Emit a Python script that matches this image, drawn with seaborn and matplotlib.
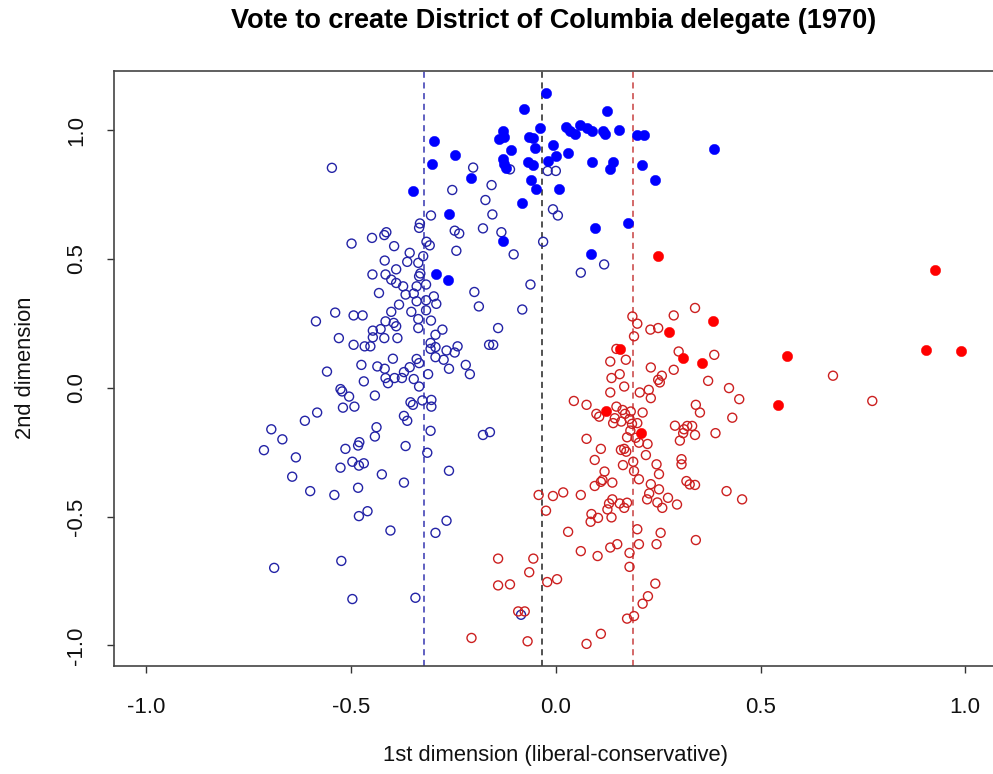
import matplotlib
matplotlib.use("Agg")
import matplotlib.pyplot as plt
import seaborn as sns
import pandas as pd

# Ideal points of legislators (W-NOMINATE), split by party and by how the vote was predicted
dem_err_x = [-0.023, -0.077, -0.039, -0.129, -0.139, -0.126, -0.066, -0.055, -0.052, -0.109,
             -0.298, -0.302, -0.247, -0.130, -0.127, -0.122, -0.069, -0.055, -0.020, -0.206,
             -0.350, -0.061, -0.048, -0.082, -0.261, -0.130, -0.007,
             0.126, 0.026, 0.034, 0.047, 0.058, 0.077, 0.089, 0.116, 0.120, 0.154, 0.199,
             0.216, 0.030, 0.001, 0.089, 0.140, 0.133, 0.211, 0.243, 0.387, 0.007, 0.095,
             0.177, 0.085, -0.292, -0.263]
dem_err_y = [1.144, 1.084, 1.007, 0.997, 0.965, 0.974, 0.974, 0.968, 0.930, 0.922,
             0.958, 0.870, 0.903, 0.887, 0.868, 0.852, 0.877, 0.865, 0.881, 0.816,
             0.765, 0.805, 0.773, 0.717, 0.674, 0.571, 0.942,
             1.073, 1.014, 0.997, 0.984, 1.019, 1.010, 0.997, 0.997, 0.984, 1.001, 0.981,
             0.981, 0.913, 0.898, 0.877, 0.878, 0.848, 0.865, 0.805, 0.926, 0.773, 0.619,
             0.641, 0.518, 0.440, 0.418]

dem_ok_x = [-0.547, -0.202, -0.112, -0.020, -0.253, -0.157, -0.172, -0.155, -0.305, -0.332,
            -0.334, -0.178, -0.133, -0.247, -0.236, -0.414, -0.419, -0.449, -0.499, -0.395,
            -0.316, -0.308, -0.243, -0.103, -0.357, -0.418, -0.363, -0.324, -0.336, -0.031,
            -0.390, -0.007, 0.005, 0.000, 0.118, 0.061,
            -0.586, -0.539, -0.559, -0.583, -0.613, -0.695, -0.668, -0.713, -0.635,
            -0.448, -0.416, -0.331, -0.334, -0.402, -0.390, -0.373, -0.367, -0.340, -0.317,
            -0.062, -0.432, -0.347, -0.298, -0.340, -0.317, -0.292, -0.199, -0.188, -0.082,
            -0.383, -0.494, -0.472, -0.402, -0.353, -0.317, -0.416, -0.396, -0.336, -0.305,
            -0.428, -0.447, -0.390, -0.336, -0.277, -0.141, -0.294, -0.530, -0.447, -0.419,
            -0.387, -0.306, -0.294, -0.306, -0.494, -0.467, -0.453, -0.240, -0.267, -0.247,
            -0.163, -0.153, -0.294, -0.274, -0.398, -0.340, -0.334, -0.475, -0.436, -0.418,
            -0.357, -0.261, -0.220, -0.210, -0.371, -0.312, -0.416, -0.394, -0.376, -0.347,
            -0.410, -0.469, -0.334, -0.526, -0.522, -0.505, -0.442, -0.326, -0.304, -0.304,
            -0.355, -0.349, -0.520, -0.492, -0.371, -0.363, -0.438, -0.442, -0.306, -0.178,
            -0.161, -0.514, -0.483, -0.480, -0.367, -0.314, -0.526, -0.497, -0.481, -0.469,
            -0.425, -0.371, -0.261, -0.541, -0.483, -0.481, -0.460, -0.404, -0.267, -0.294,
            -0.524, -0.497, -0.343, -0.085, -0.644, -0.600, -0.688]
dem_ok_y = [0.854, 0.855, 0.848, 0.842, 0.768, 0.787, 0.729, 0.673, 0.669, 0.638,
            0.621, 0.619, 0.604, 0.610, 0.599, 0.604, 0.593, 0.582, 0.560, 0.550,
            0.567, 0.553, 0.532, 0.518, 0.524, 0.494, 0.489, 0.511, 0.485, 0.567,
            0.460, 0.693, 0.669, 0.842, 0.479, 0.447,
            0.258, 0.292, 0.063, -0.096, -0.128, -0.161, -0.200, -0.242, -0.270,
            0.440, 0.440, 0.444, 0.433, 0.420, 0.407, 0.394, 0.362, 0.394, 0.401,
            0.401, 0.368, 0.366, 0.355, 0.336, 0.340, 0.326, 0.372, 0.316, 0.304,
            0.323, 0.281, 0.281, 0.295, 0.295, 0.301, 0.258, 0.252, 0.267, 0.261,
            0.228, 0.222, 0.239, 0.232, 0.226, 0.232, 0.206, 0.193, 0.196, 0.193,
            0.193, 0.174, 0.158, 0.151, 0.167, 0.161, 0.161, 0.161, 0.145, 0.137,
            0.167, 0.167, 0.119, 0.109, 0.113, 0.112, 0.096, 0.089, 0.083, 0.074,
            0.080, 0.074, 0.089, 0.053, 0.061, 0.053, 0.038, 0.038, 0.038, 0.034,
            0.018, 0.025, 0.005, -0.005, -0.014, -0.034, -0.030, -0.049, -0.047, -0.073,
            -0.056, -0.066, -0.077, -0.073, -0.109, -0.128, -0.153, -0.189, -0.167, -0.183,
            -0.172, -0.237, -0.224, -0.211, -0.226, -0.252, -0.310, -0.287, -0.302, -0.293,
            -0.336, -0.368, -0.322, -0.416, -0.388, -0.498, -0.479, -0.554, -0.516, -0.563,
            -0.672, -0.820, -0.815, -0.881, -0.345, -0.401, -0.699]

rep_err_x = [0.250, 0.927, 0.383, 0.277, 0.156, 0.311, 0.356, 0.122, 0.208,
             0.565, 0.903, 0.989, 0.543]
rep_err_y = [0.511, 0.458, 0.261, 0.217, 0.151, 0.117, 0.096, -0.089, -0.176,
             0.122, 0.145, 0.141, -0.066]

rep_ok_x = [0.340, 0.288, 0.187, 0.199, 0.231, 0.250, 0.191, 0.148, 0.300, 0.387,
            0.133, 0.171, 0.232, 0.288, 0.156, 0.136, 0.250, 0.254, 0.259, 0.167,
            0.372, 0.423, 0.448, 0.133, 0.205, 0.227, 0.232, 0.044, 0.075, 0.148,
            0.342, 0.352, 0.099, 0.106, 0.163, 0.169, 0.183, 0.212, 0.431, 0.144,
            0.140, 0.160, 0.180, 0.186, 0.199, 0.291, 0.313, 0.321, 0.333, 0.311,
            0.340, 0.390, 0.182, 0.075, 0.174, 0.195, 0.303, 0.110, 0.159, 0.167,
            0.172, 0.203, 0.224, 0.095, 0.220, 0.307, 0.307, 0.189, 0.246, 0.164,
            0.119,
            -0.042, -0.007, -0.024, -0.141, -0.055, -0.065, -0.021, -0.141, -0.112,
            -0.092, -0.076, -0.206, -0.069,
            0.114, 0.110, 0.095, 0.138, 0.191, 0.203, 0.252, 0.232, 0.228, 0.252,
            0.223, 0.248, 0.260, 0.274, 0.296, 0.319, 0.327, 0.340, 0.417, 0.455,
            0.018, 0.061, 0.138, 0.130, 0.156, 0.174, 0.167, 0.126, 0.087, 0.103,
            0.085, 0.136, 0.030, 0.199, 0.256, 0.342, 0.061, 0.102, 0.133, 0.150,
            0.203, 0.246, 0.180, 0.180, 0.003, 0.243, 0.225, 0.212, 0.191, 0.174,
            0.110, 0.075,
            0.677, 0.773]
rep_ok_y = [0.310, 0.281, 0.277, 0.249, 0.226, 0.232, 0.200, 0.151, 0.141, 0.128,
            0.102, 0.109, 0.079, 0.070, 0.053, 0.038, 0.031, 0.021, 0.047, 0.005,
            0.027, -0.001, -0.044, -0.018, -0.018, -0.008, -0.040, -0.051, -0.066, -0.073,
            -0.066, -0.096, -0.101, -0.112, -0.086, -0.101, -0.092, -0.096, -0.116, -0.118,
            -0.137, -0.131, -0.121, -0.140, -0.137, -0.147, -0.161, -0.148, -0.148, -0.176,
            -0.183, -0.176, -0.166, -0.198, -0.192, -0.194, -0.205, -0.237, -0.241, -0.237,
            -0.248, -0.213, -0.218, -0.280, -0.261, -0.277, -0.297, -0.287, -0.297, -0.300,
            -0.325,
            -0.416, -0.420, -0.477, -0.663, -0.663, -0.716, -0.754, -0.767, -0.763,
            -0.868, -0.868, -0.971, -0.984,
            -0.358, -0.365, -0.381, -0.368, -0.323, -0.355, -0.335, -0.374, -0.410, -0.394,
            -0.433, -0.445, -0.466, -0.427, -0.453, -0.362, -0.375, -0.377, -0.401, -0.433,
            -0.406, -0.416, -0.433, -0.449, -0.449, -0.446, -0.466, -0.472, -0.490, -0.505,
            -0.520, -0.503, -0.559, -0.549, -0.563, -0.591, -0.634, -0.653, -0.620, -0.607,
            -0.607, -0.607, -0.641, -0.695, -0.743, -0.760, -0.809, -0.838, -0.886, -0.896,
            -0.955, -0.994,
            0.047, -0.051]

# Reference lines: Democratic median, chamber median, Republican median
dem_median = -0.3225
chamber_median = -0.034
rep_median = 0.188

tick_values = [-1.0, -0.5, 0.0, 0.5, 1.0]
tick_labels = ["-1.0", "-0.5", "0.0", "0.5", "1.0"]

title = "Vote to create District of Columbia delegate (1970)"
xlabel = "1st dimension (liberal-conservative)"
ylabel = "2nd dimension"

sns.set_style("white")
plt.rcParams["font.family"] = ["Liberation Sans", "DejaVu Sans"]
plt.rcParams["axes.unicode_minus"] = False

fig = plt.figure(figsize=(9.93, 7.74), dpi=100)
ax = fig.add_axes([0.1145, 0.1395, 0.8905, 0.7688])

frames = {
    "dem_ok": pd.DataFrame({"x": dem_ok_x, "y": dem_ok_y}),
    "dem_err": pd.DataFrame({"x": dem_err_x, "y": dem_err_y}),
    "rep_ok": pd.DataFrame({"x": rep_ok_x, "y": rep_ok_y}),
    "rep_err": pd.DataFrame({"x": rep_err_x, "y": rep_err_y}),
}

sns.scatterplot(data=frames["dem_ok"], x="x", y="y", ax=ax, marker="o", s=42,
                facecolors="none", edgecolor="#2323a6", linewidth=1.0, zorder=3)
sns.scatterplot(data=frames["rep_ok"], x="x", y="y", ax=ax, marker="o", s=42,
                facecolors="none", edgecolor="#cc2020", linewidth=1.0, zorder=3)
sns.scatterplot(data=frames["dem_err"], x="x", y="y", ax=ax, marker="o", s=56,
                color="#0000ff", edgecolor="#0000ff", linewidth=0.3, zorder=4)
sns.scatterplot(data=frames["rep_err"], x="x", y="y", ax=ax, marker="o", s=56,
                color="#ff0000", edgecolor="#ff0000", linewidth=0.3, zorder=4)

ax.axvline(dem_median, color="#3535b0", linestyle=(0, (4, 3)), linewidth=1.1, zorder=2)
ax.axvline(chamber_median, color="#222222", linestyle=(0, (4, 3)), linewidth=1.1, zorder=2)
ax.axvline(rep_median, color="#c84040", linestyle=(0, (4, 3)), linewidth=1.1, zorder=2)

ax.set_xlim(-1.08, 1.08)
ax.set_ylim(-1.08, 1.23)
ax.set_xticks(tick_values)
ax.set_xticklabels(tick_labels)
ax.set_yticks(tick_values)
ax.set_yticklabels(tick_labels, rotation=90, va="center")

ax.tick_params(axis="both", direction="out", length=5, width=1.0, color="#333333",
               labelsize=16, labelcolor="#111111")
ax.tick_params(axis="x", pad=17)
ax.tick_params(axis="y", pad=14)
ax.tick_params(left=True, bottom=True)

for side in ["left", "bottom", "top", "right"]:
    ax.spines[side].set_color("#444444")
    ax.spines[side].set_linewidth(1.2)

ax.set_xlabel(xlabel, fontsize=15.8, color="#111111", labelpad=20)
ax.set_ylabel("")
fig.text(26 / 993, 1 - 368 / 774, ylabel, rotation=90, ha="center", va="center",
         fontsize=15.8, color="#111111")
fig.text(554 / 993, 1 - 21 / 774, title, ha="center", va="center",
         fontsize=19.5, fontweight="bold", color="#000000")

fig.savefig("out.png", dpi=100)
